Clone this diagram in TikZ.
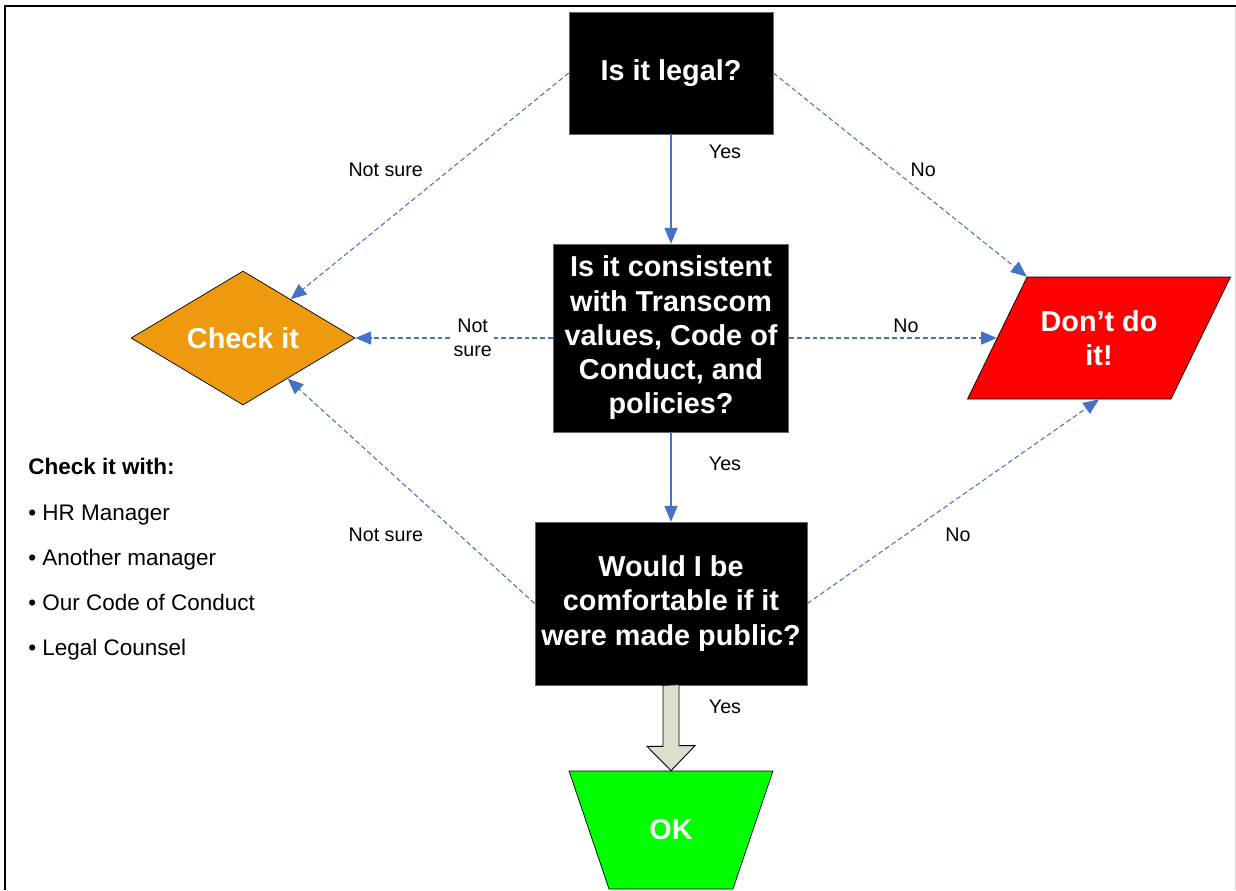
\documentclass[tikz,border=0pt]{standalone}
\usepackage{fontspec}
\setmainfont{Liberation Sans}
\usetikzlibrary{arrows.meta, positioning, shapes.geometric}

\definecolor{flowblue}{RGB}{68,114,196}
\definecolor{checkorange}{RGB}{238,154,14}
\definecolor{arrowkhaki}{RGB}{221,222,204}

\begin{document}
\begin{tikzpicture}[
        x=0.02cm, y=-0.02cm,
        question/.style={rectangle, draw=black!60, fill=black, text=white, align=center, inner sep=0pt, font=\bfseries\fontsize{16.4pt}{19.5pt}\selectfont},
        checkit/.style={diamond, shape aspect=1.67, draw=black, fill=checkorange, text=white, inner sep=0pt, minimum width=4.48cm, minimum height=2.68cm, font=\bfseries\fontsize{16.4pt}{19.5pt}\selectfont},
        refuse/.style={trapezium, trapezium left angle=64, trapezium right angle=116, draw=black, fill=red, text=white, inner sep=0pt, font=\bfseries\fontsize{16.4pt}{19.5pt}\selectfont},
        okshape/.style={trapezium, trapezium angle=71.3, shape border rotate=180, draw=black, fill=green, text=white, inner sep=0pt, font=\bfseries\fontsize{16.4pt}{19.5pt}\selectfont},
        yesflow/.style={-{Triangle[length=9pt, width=7.5pt]}, flowblue, line width=0.6pt},
        doubtflow/.style={yesflow, dash pattern=on 2.8pt off 1.7pt},
        choice/.style={text=black, align=center, inner sep=1pt, font=\fontsize{11.2pt}{13.6pt}\selectfont},
        fatarrow/.style={draw=black, fill=arrowkhaki, line width=0.5pt},
        listitem/.style={anchor=base west, inner sep=0pt, font=\fontsize{12.8pt}{15pt}\selectfont},
    ]
        \useasboundingbox (0,0) rectangle (1236,890);

        % frame
        \draw[line width=1.2pt] (5,890) -- (5,6) -- (1236,6);
        \draw[black!15] (1235,7) -- (1235,890);

        \node[question, minimum width=4.08cm, minimum height=2.44cm] (legal) at (671,73) {Is it legal?};
        \node[question, minimum width=4.7cm, minimum height=3.76cm] (values) at (671,338) {Is it consistent\\with Transcom\\values, Code of\\Conduct, and\\policies?};
        \node[question, minimum width=5.44cm, minimum height=3.26cm] (public) at (671,603.5) {Would I be\\comfortable if it\\were made public?};
        \node[checkit] (check) at (243,338) {Check it};
        \node[refuse] (dont) at (1099,338) {\parbox[c][2.44cm][c]{2.88cm}{\centering Don’t do\\it!}};
        \node[okshape] (okay) at (671,830) {\parbox[c][2.36cm][c]{2.48cm}{\centering OK}};

        \draw[yesflow] (legal) -- node[choice, pos=0.164, xshift=1.08cm] {Yes} (values);
        \draw[doubtflow] (legal.west) -- node[choice, pos=0.428, xshift=-1.28cm] {Not sure} (check);
        \draw[doubtflow] (legal.east) -- node[choice, pos=0.475, xshift=0.59cm] {No} (dont.top left corner);

        \draw[doubtflow] (values.west) -- node[choice, pos=0.407, fill=white] {Not\\sure} (check.east);
        \draw[doubtflow] (values.east) -- node[choice, pos=0.5625, yshift=0.24cm] {No} (dont.left side);
        \draw[yesflow] (values) -- node[choice, pos=0.356, xshift=1.08cm] {Yes} (public);

        \draw[doubtflow] (public.west) -- node[choice, pos=0.307, xshift=-1.46cm] {Not sure} (check);
        \draw[doubtflow] (public.east) -- node[choice, pos=0.338, xshift=1.04cm] {No} (dont.south);

        % wide arrow to OK
        \draw[fatarrow] (public.south) ++(-8,0) -- ++(0,61) -- ++(-16,0) -- (okay.north) -- ++(24,-25) -- ++(-16,0) -- ++(0,-61) -- cycle;
        \node[choice] (yesok) at (725,707) {Yes};

        % who to ask
        \node[listitem, font=\bfseries\fontsize{12.8pt}{15pt}\selectfont] (checkwith) at (28,474) {Check it with:};
        \node[listitem] (hr) at (28,520) {• HR Manager};
        \node[listitem] (manager) at (28,565) {• Another manager};
        \node[listitem] (code) at (28,610) {• Our Code of Conduct};
        \node[listitem] (counsel) at (28,655) {• Legal Counsel};
\end{tikzpicture}
\end{document}
